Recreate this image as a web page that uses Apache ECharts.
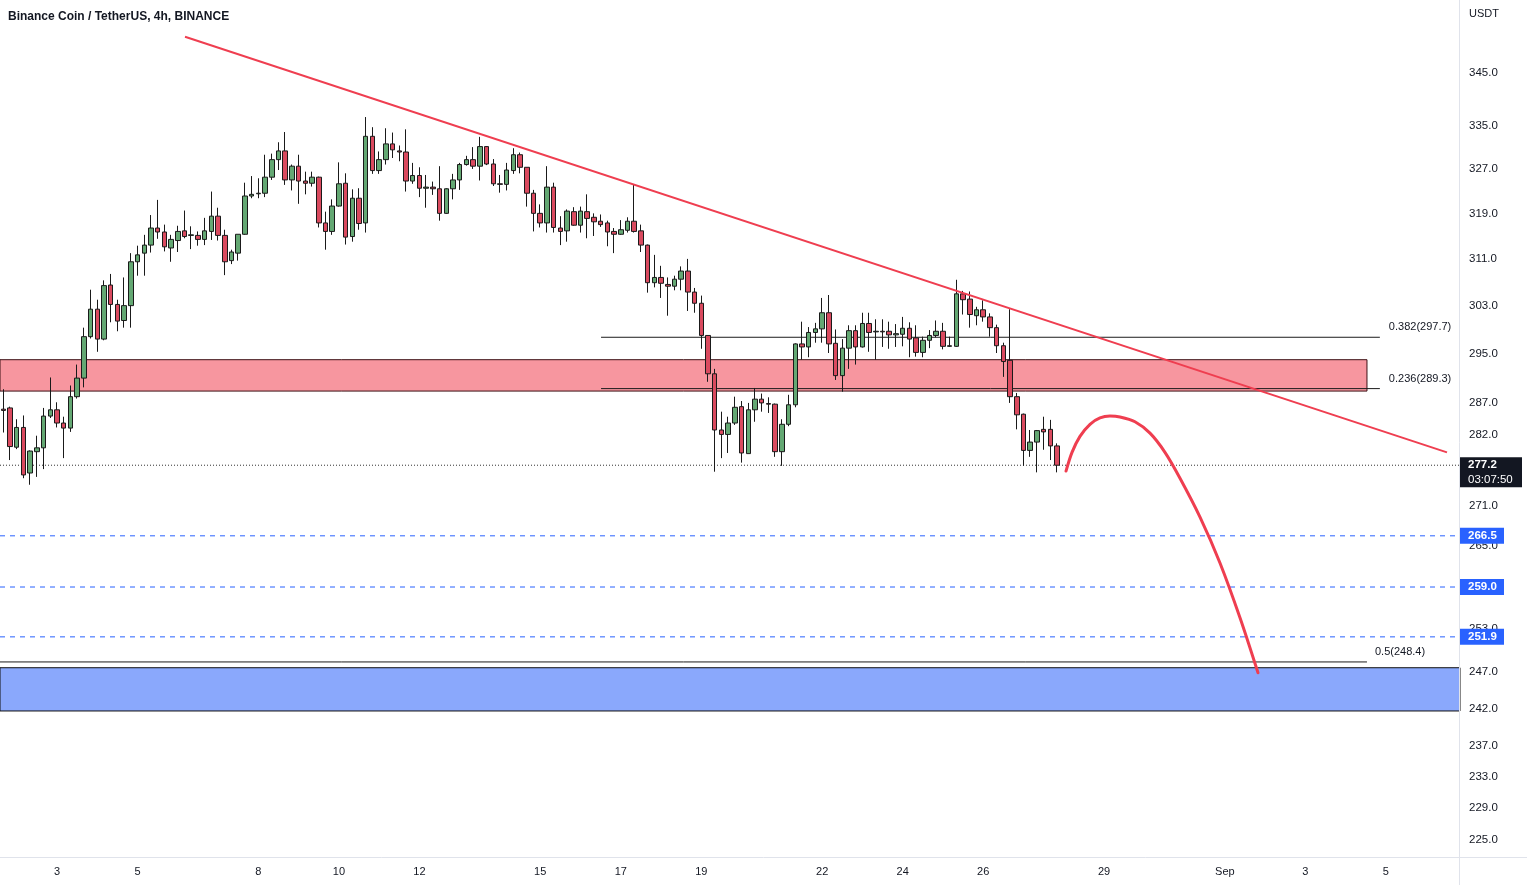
<!DOCTYPE html>
<html><head><meta charset="utf-8">
<script src="https://cdn.jsdelivr.net/npm/echarts@6/dist/echarts.min.js"></script>
<style>html,body{margin:0;padding:0;background:#fff}#c{width:1527px;height:885px}</style>
</head><body><div id="c"></div>
<script>
// ---------- data ----------
const chartTitle = 'Binance Coin / TetherUS, 4h, BINANCE';
const quoteUnit = 'USDT';
// time in "day of August" (Aug 1 00:00 = 1); 4h candles
const firstCandleDay = 1 + 16 / 24;
const candleStepDays = 4 / 24;
// [open, high, low, close]
const candles = [
[286.0,289.2,282.3,285.8],[286.2,286.4,278.0,280.1],[280.0,284.4,279.7,283.1],[283.1,285.0,275.2,275.7],
[276.0,279.5,274.2,279.4],[279.3,281.8,275.4,279.9],[279.9,286.2,276.6,284.9],[284.9,291.1,284.6,285.9],
[285.9,287.1,283.1,283.8],[283.8,284.8,278.3,283.0],[283.0,289.8,282.4,288.0],[288.0,293.2,287.7,291.0],
[291.0,299.3,289.5,297.8],[297.8,305.7,297.5,302.4],[302.4,304.0,295.3,297.4],[297.4,307.3,297.2,306.4],
[306.5,308.4,300.2,303.2],[303.2,304.0,298.7,300.4],[300.5,307.8,299.3,303.0],[303.0,312.0,299.3,310.5],
[310.5,313.3,308.1,311.7],[312.0,315.2,308.1,313.4],[313.4,318.7,312.1,316.4],[316.4,321.4,314.5,315.7],
[315.7,317.0,312.3,313.1],[312.9,315.2,310.5,314.4],[314.2,316.8,312.2,315.8],[315.9,319.5,314.6,314.9],
[315.1,316.7,312.7,315.2],[315.1,315.8,313.3,314.4],[314.4,318.2,313.4,315.9],[315.8,322.9,314.3,318.5],
[318.5,320.0,314.2,315.1],[315.1,316.1,308.2,310.5],[310.7,312.6,310.1,312.2],[312.0,315.3,310.7,315.3],
[315.3,324.5,315.2,322.1],[322.1,325.7,321.7,322.4],[322.5,325.3,321.7,322.6],[322.6,329.6,321.9,325.5],
[325.5,329.8,325.0,328.7],[328.7,331.9,326.8,330.3],[330.3,333.8,324.1,325.0],[325.0,327.8,323.1,327.5],
[327.5,329.6,320.7,324.8],[324.8,326.5,322.4,324.4],[324.4,326.5,323.8,325.5],[325.5,325.6,316.5,317.3],
[317.3,319.3,312.6,315.8],[315.8,321.5,315.2,320.3],[320.3,328.2,320.2,324.3],[324.4,326.2,313.5,314.8],
[314.9,323.3,314.0,321.7],[321.7,323.5,316.1,317.2],[317.3,336.6,315.6,333.0],[333.0,334.7,326.1,326.7],
[326.7,330.2,326.1,328.7],[328.7,334.5,327.8,331.6],[331.6,333.7,329.0,330.5],[330.3,331.3,328.4,330.1],
[330.1,334.3,322.9,324.8],[324.8,328.1,324.3,325.8],[325.8,327.3,321.9,323.5],[323.5,325.9,320.0,323.7],
[323.7,324.7,322.3,323.4],[323.4,327.5,317.7,319.0],[319.0,323.5,318.9,323.4],[323.4,326.1,321.5,325.0],
[325.0,328.1,323.2,327.8],[327.8,329.4,327.6,328.7],[328.7,331.0,327.0,327.5],[327.5,332.9,324.9,331.1],
[331.1,331.2,327.7,327.9],[327.9,328.8,323.9,324.3],[324.3,325.9,322.7,324.2],[324.2,328.1,323.1,326.8],
[326.7,330.8,326.1,329.6],[329.6,330.0,326.2,327.3],[327.3,327.3,320.2,322.6],[322.6,323.2,315.8,319.0],
[319.0,320.6,316.5,317.3],[317.3,327.5,315.6,323.7],[323.7,324.5,315.6,316.5],[316.4,318.5,313.4,315.8],
[315.9,319.7,314.0,319.4],[319.3,320.1,316.8,316.9],[316.9,320.2,315.6,319.4],[319.3,322.4,314.6,318.1],
[318.3,319.0,315.0,317.5],[317.6,318.8,316.6,317.0],[317.3,317.7,313.2,315.7],[315.8,316.4,312.0,315.3],
[315.3,317.8,315.2,316.1],[316.0,318.3,315.6,317.6],[317.6,324.1,315.6,315.8],[315.9,317.0,312.2,313.4],
[313.4,313.5,305.2,306.9],[306.9,311.7,306.1,307.8],[307.8,309.8,304.3,306.8],[306.6,307.8,301.3,306.3],
[306.3,308.1,305.6,307.5],[307.5,309.7,305.6,308.9],[308.9,311.0,302.1,305.3],[305.3,306.0,301.8,303.4],
[303.4,304.7,295.8,298.0],[298.0,298.0,290.4,291.7],[291.7,292.5,276.2,282.7],[282.7,285.6,278.3,282.0],
[282.0,284.8,279.1,283.8],[283.8,288.0,283.5,286.3],[286.4,287.3,277.6,279.1],[279.0,287.0,279.0,285.9],
[285.9,289.4,284.0,287.6],[287.6,288.5,285.6,287.0],[286.9,287.9,285.4,286.8],[286.8,286.9,278.5,279.3],
[279.3,284.4,277.1,283.6],[283.6,288.3,283.3,286.7],[286.7,296.7,286.3,296.6],[296.6,300.3,294.0,296.1],
[296.1,299.4,294.4,298.5],[298.5,300.1,296.8,299.1],[299.1,304.3,296.8,301.8],[301.8,304.8,295.1,296.6],
[296.7,299.0,290.7,291.4],[291.4,297.4,288.8,295.9],[295.9,299.7,292.5,298.8],[298.8,299.7,293.2,296.1],
[296.1,301.8,296.0,300.0],[300.0,301.8,295.3,298.5],[298.6,300.7,294.0,298.7],[298.7,300.7,296.1,298.6],
[298.7,300.3,295.8,298.1],[298.1,299.9,296.1,298.3],[298.2,301.1,296.2,299.2],[299.2,300.2,294.4,297.4],
[297.6,299.7,294.5,295.2],[295.2,297.8,294.4,297.2],[297.2,298.9,295.9,298.0],[298.0,300.5,297.7,298.7],
[298.7,300.1,295.7,296.2],[296.2,297.8,296.1,296.3],[296.2,307.4,296.1,305.0],[305.0,305.5,301.5,304.0],
[304.1,305.4,299.3,301.5],[301.3,302.8,299.7,302.3],[302.3,303.9,300.3,301.1],[301.1,301.7,297.8,299.3],
[299.3,299.8,295.1,296.3],[296.3,296.8,291.2,293.7],[293.9,302.4,287.0,288.0],[288.0,288.6,282.8,285.1],
[285.2,285.3,277.1,279.5],[279.5,282.7,278.5,280.8],[280.8,282.7,276.1,282.6],[282.8,284.8,279.6,282.4],
[282.8,284.3,278.0,280.2],[280.2,280.6,276.1,277.2]
];
const xTickDays   = [3, 5, 8, 10, 12, 15, 17, 19, 22, 24, 26, 29, 32, 34, 36];
const xTickLabels = ['3','5','8','10','12','15','17','19','22','24','26','29','Sep','3','5'];
const yTickValues = [345, 335, 327, 319, 311, 303, 295, 287, 282, 271, 265, 253, 247, 242, 237, 233, 229, 225];
const lastPrice = 277.2;
const countdown = '03:07:50';
const supportLevels = [266.5, 259.0, 251.9];
const resistanceZone = [288.9, 294.0];
const demandZone = [241.7, 247.6];
const fibUpper = [{ratio: '0.382', price: 297.7}, {ratio: '0.236', price: 289.3}];
const fibUpperDays = [16.51, 35.85];
const fibMid = {ratio: '0.5', price: 248.4};
const fibMidEndDay = 35.53;
const resistanceZoneEndDay = 35.53;
const trendLine = [[6.179, 352.0], [37.517, 279.2]];
const projectionPath = [
[28.056,276.3],[28.205,279.2],[28.403,281.7],[28.652,283.6],[28.900,284.6],[29.148,284.9],
[29.397,284.75],[29.769,284.0],[30.142,282.2],[30.514,279.2],[30.887,275.2],[31.384,269.3],
[31.880,262.5],[32.377,254.6],[32.824,246.9]
];
const X_MIN = 1.5845, X_MAX = 37.84, Y_MIN = 222.8, Y_MAX = 359.3;

// ---------- chart ----------
const FONT = 'Liberation Sans, Arial, sans-serif';
const chart = echarts.init(document.getElementById('c'), null, {renderer: 'canvas'});
const candleData = candles.map((c, i) => [firstCandleDay + i * candleStepDays, c[0], c[3], c[2], c[1]]);
function lineSeries(data, style, z) {
  return {type: 'line', data: data, symbol: 'none', silent: true, animation: false,
    lineStyle: style, z: z || 2, clip: true};
}
const series = [];
// zones
series.push({
  type: 'line', data: [], silent: true, z: 1, animation: false,
  markArea: {silent: true, animation: false, label: {show: false}, data: [
    [{xAxis: X_MIN - 0.2, yAxis: resistanceZone[0], itemStyle: {color: '#f7969f', borderColor: '#3d1014', borderWidth: 1}},
     {xAxis: resistanceZoneEndDay, yAxis: resistanceZone[1]}],
    [{xAxis: X_MIN - 0.2, yAxis: demandZone[0], itemStyle: {color: '#8aa8fc', borderColor: '#111111', borderWidth: 1}},
     {xAxis: X_MAX + 0.2, yAxis: demandZone[1]}]
  ]}
});
// fib lines
fibUpper.forEach(f => series.push(lineSeries([[fibUpperDays[0], f.price], [fibUpperDays[1], f.price]], {color: '#1c1c1c', width: 1}, 2)));
series.push(lineSeries([[X_MIN, fibMid.price], [fibMidEndDay, fibMid.price]], {color: '#1c1c1c', width: 1}, 2));
// support dashed lines
supportLevels.forEach(p => series.push(lineSeries([[X_MIN, p], [X_MAX, p]], {color: '#2962ff', width: 1, type: [5, 5]}, 2)));
// last price dotted
series.push(lineSeries([[X_MIN, lastPrice], [X_MAX, lastPrice]], {color: '#333333', width: 1, type: [1, 2]}, 2));
// candles
series.push({
  type: 'candlestick', data: candleData, barWidth: 5, z: 3, animation: false, silent: true,
  itemStyle: {color: '#64a873', color0: '#da4a5f', borderColor: '#1a1a1a', borderColor0: '#1a1a1a', borderWidth: 1}
});
// trend line & projection
series.push(lineSeries(trendLine, {color: '#ef3e50', width: 2}, 4));
series.push(Object.assign(lineSeries(projectionPath, {color: '#ef3e50', width: 3, cap: 'round', join: 'round'}, 4), {smooth: 0.3}));

chart.setOption({
  backgroundColor: '#ffffff',
  animation: false,
  grid: {left: 0, right: 67, top: 0, bottom: 28, containLabel: false},
  xAxis: {
    type: 'value', min: X_MIN, max: X_MAX,
    axisLine: {show: false}, axisTick: {show: false}, splitLine: {show: false},
    axisLabel: {
      customValues: xTickDays, margin: 9, color: '#131722', fontSize: 11, fontFamily: FONT,
      formatter: v => { const i = xTickDays.findIndex(d => Math.abs(d - v) < 1e-6); return i >= 0 ? xTickLabels[i] : ''; }
    }
  },
  yAxis: {
    type: 'log', logBase: 10, min: Y_MIN, max: Y_MAX, position: 'right',
    axisLine: {show: false}, axisTick: {show: false}, splitLine: {show: false},
    axisLabel: {customValues: yTickValues, margin: 9, color: '#131722', fontSize: 11.5, fontFamily: FONT,
      formatter: v => Number(v).toFixed(1)}
  },
  series: series
});

// ---------- annotations positioned via the axes ----------
const px = (x, y) => chart.convertToPixel({xAxisIndex: 0, yAxisIndex: 0}, [x, y]);
const g = [];
g.push({type: 'line', shape: {x1: 1459.5, y1: 0, x2: 1459.5, y2: 885}, style: {stroke: '#e0e3eb', lineWidth: 1}, z: 50});
g.push({type: 'line', shape: {x1: 0, y1: 857.5, x2: 1527, y2: 857.5}, style: {stroke: '#e0e3eb', lineWidth: 1}, z: 50});
g.push({type: 'text', x: 8, y: 16.5, z: 60, style: {text: chartTitle, fill: '#131722', font: 'bold 12px ' + FONT, verticalAlign: 'middle'}});
g.push({type: 'text', x: 1469, y: 14, z: 60, style: {text: quoteUnit, fill: '#131722', font: '11px ' + FONT, verticalAlign: 'middle'}});
fibUpper.forEach(f => {
  const p = px(fibUpperDays[1], f.price);
  g.push({type: 'text', x: p[0] + 9, y: p[1] - 10, z: 60, style: {text: f.ratio + '(' + f.price.toFixed(1) + ')', fill: '#131722', font: '11px ' + FONT, verticalAlign: 'middle'}});
});
{
  const p = px(fibMidEndDay, fibMid.price);
  g.push({type: 'text', x: p[0] + 8, y: p[1] - 10, z: 60, style: {text: fibMid.ratio + '(' + fibMid.price.toFixed(1) + ')', fill: '#131722', font: '11px ' + FONT, verticalAlign: 'middle'}});
}
supportLevels.forEach(v => {
  const y = px(X_MAX, v)[1];
  g.push({type: 'rect', shape: {x: 1460, y: y - 8, width: 44, height: 16}, style: {fill: '#2962ff'}, z: 70});
  g.push({type: 'text', x: 1468, y: y, z: 71, style: {text: v.toFixed(1), fill: '#ffffff', font: 'bold 11.5px ' + FONT, verticalAlign: 'middle'}});
});
{
  const y = px(X_MAX, lastPrice)[1];
  g.push({type: 'rect', shape: {x: 1460, y: y - 8, width: 62, height: 30}, style: {fill: '#131722'}, z: 70});
  g.push({type: 'text', x: 1468, y: y, z: 71, style: {text: lastPrice.toFixed(1), fill: '#ffffff', font: 'bold 11.5px ' + FONT, verticalAlign: 'middle'}});
  g.push({type: 'text', x: 1468, y: y + 15, z: 71, style: {text: countdown, fill: '#ffffff', font: '11.5px ' + FONT, verticalAlign: 'middle'}});
}
chart.setOption({graphic: g});
</script></body></html>
